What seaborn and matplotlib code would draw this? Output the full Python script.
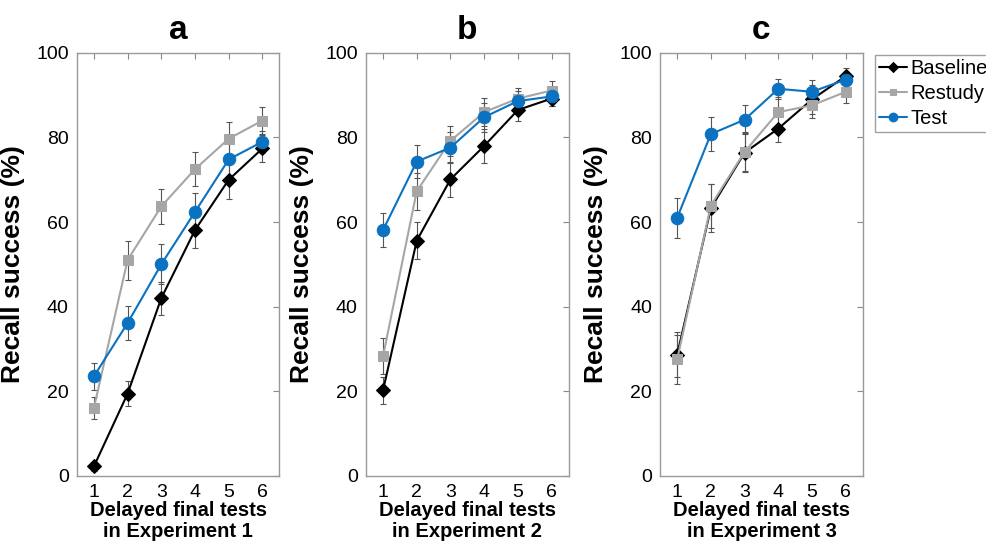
import numpy as np
import seaborn as sns
import pandas as pd
import matplotlib.pyplot as plt

sns.set_style("white")
plt.rcParams['font.family'] = ['Liberation Sans', 'DejaVu Sans']
plt.rcParams['text.color'] = 'black'
plt.rcParams['axes.labelcolor'] = 'black'
plt.rcParams['xtick.color'] = 'black'
plt.rcParams['ytick.color'] = 'black'

tests = [1, 2, 3, 4, 5, 6]
conditions = ["Baseline", "Restudy", "Test"]
panels = ["a", "b", "c"]
experiments = ["Experiment 1", "Experiment 2", "Experiment 3"]

# mean recall (%) per experiment
exp1_baseline = [2.2, 19.4, 42.0, 58.1, 70.0, 77.4]
exp1_restudy = [16.0, 51.0, 63.7, 72.5, 79.7, 84.0]
exp1_test = [23.5, 36.1, 50.0, 62.4, 74.8, 79.0]
exp2_baseline = [20.2, 55.6, 70.1, 78.0, 86.5, 89.2]
exp2_restudy = [28.3, 67.3, 79.2, 86.0, 89.2, 91.1]
exp2_test = [58.1, 74.3, 77.6, 84.8, 88.6, 89.7]
exp3_baseline = [28.6, 63.3, 76.4, 82.1, 89.0, 94.5]
exp3_restudy = [27.5, 63.9, 76.6, 86.0, 87.6, 90.8]
exp3_test = [61.0, 80.8, 84.2, 91.5, 90.8, 93.7]

# error bar half-widths
exp1_baseline_err = [1.0, 3.0, 3.9, 4.2, 4.6, 3.2]
exp1_restudy_err = [2.6, 4.6, 4.2, 4.0, 4.0, 3.2]
exp1_test_err = [3.2, 4.1, 4.7, 4.4, 3.9, 2.6]
exp2_baseline_err = [3.2, 4.4, 4.1, 4.0, 2.7, 1.8]
exp2_restudy_err = [4.2, 4.4, 3.6, 3.4, 2.5, 2.3]
exp2_test_err = [4.0, 4.0, 3.7, 3.4, 2.3, 2.2]
exp3_baseline_err = [5.3, 5.7, 4.6, 3.2, 3.5, 2.0]
exp3_restudy_err = [5.7, 5.2, 4.6, 3.5, 2.9, 2.6]
exp3_test_err = [4.7, 4.1, 3.5, 2.4, 2.7, 1.8]

means = [[exp1_baseline, exp1_restudy, exp1_test],
         [exp2_baseline, exp2_restudy, exp2_test],
         [exp3_baseline, exp3_restudy, exp3_test]]
errs = [[exp1_baseline_err, exp1_restudy_err, exp1_test_err],
        [exp2_baseline_err, exp2_restudy_err, exp2_test_err],
        [exp3_baseline_err, exp3_restudy_err, exp3_test_err]]

colors = {"Baseline": "#000000", "Restudy": "#a6a6a6", "Test": "#0a72c0"}
markers = {"Baseline": "D", "Restudy": "s", "Test": "o"}
msizes = {"Baseline": 7, "Restudy": 7, "Test": 9}

fig = plt.figure(figsize=(9.87, 5.45), dpi=100)
lefts = [0.078, 0.371, 0.669]

for i in range(3):
    ax = fig.add_axes([lefts[i], 0.127, 0.205, 0.776])
    rows = []
    for c, cond in enumerate(conditions):
        for t, m, e in zip(tests, means[i][c], errs[i][c]):
            rows.append({"test": t, "recall": m, "err": e, "condition": cond})
    df = pd.DataFrame(rows)

    for cond in conditions:
        sub = df[df["condition"] == cond]
        ax.errorbar(sub["test"], sub["recall"], yerr=sub["err"], fmt="none",
                    ecolor="#555555", elinewidth=0.8, capsize=2, capthick=0.8, zorder=1)
    for cond in conditions:
        sub = df[df["condition"] == cond]
        sns.lineplot(data=sub, x="test", y="recall", ax=ax, color=colors[cond],
                     marker=markers[cond], markersize=msizes[cond],
                     markeredgecolor=colors[cond], linewidth=1.5, label=cond,
                     legend=False, zorder=3)

    ax.set_xlim(0.5, 6.5)
    ax.set_ylim(0, 100)
    ax.set_xticks(tests)
    ax.set_yticks([0, 20, 40, 60, 80, 100])
    ax.tick_params(direction="in", top=True, right=True, length=4, color="#888888",
                   labelsize=14, pad=6)
    for s in ax.spines.values():
        s.set_color("#999999")
        s.set_linewidth(1)
    ax.set_title(panels[i], fontsize=24, fontweight="bold", pad=10)
    ax.set_ylabel("Recall success (%)", fontsize=19, fontweight="bold", labelpad=8)
    ax.set_xlabel("Delayed final tests\nin " + experiments[i], fontsize=14.5,
                  fontweight="bold", labelpad=0, linespacing=1.15)

    if i == 2:
        leg = ax.legend(loc="upper left", bbox_to_anchor=(1.06, 0.996), fontsize=14.5,
                        frameon=True, fancybox=False, handlelength=1.4,
                        handletextpad=0.15, borderpad=0.2, labelspacing=0.3,
                        borderaxespad=0.0, markerscale=0.7)
        leg.get_frame().set_edgecolor("#888888")

plt.savefig("out.png", dpi=100)
